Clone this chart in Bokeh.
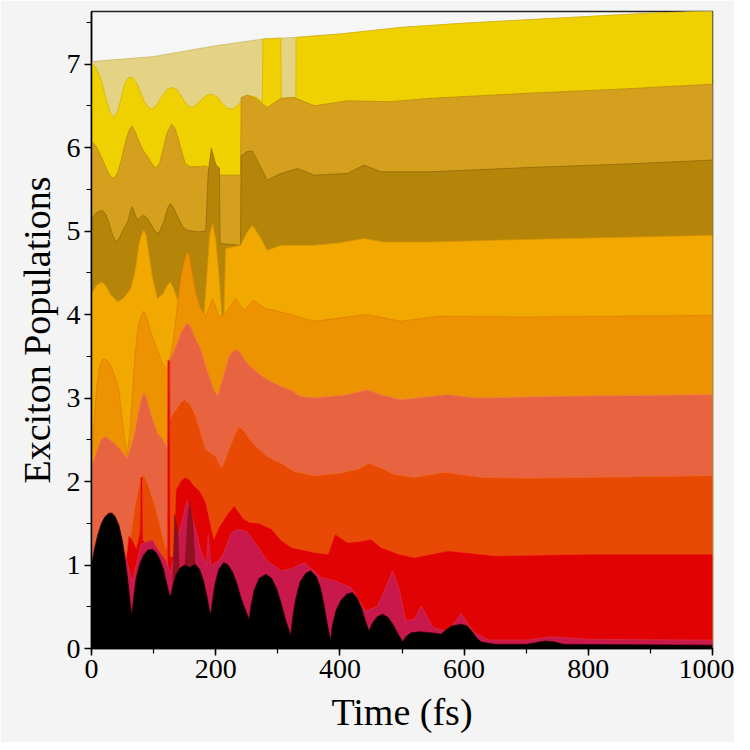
from bokeh.plotting import figure
from bokeh.models import Range1d, SingleIntervalTicker
from bokeh.embed import file_html
from bokeh.resources import INLINE

# ---- data: top edge of each coloured population band (time in fs) ----
t_pale = [0, 100, 200, 276, 329, 400, 500, 600, 700, 800, 900, 1000]
y_pale = [7.03, 7.09, 7.22, 7.30, 7.32, 7.36, 7.44, 7.49, 7.53, 7.57, 7.61, 7.64]

t_yellow = [0, 6, 12, 18, 23, 30, 36, 42, 48, 54, 60, 66, 72, 78, 85, 92, 98, 106, 114, 122, 130, 138, 146, 154, 162,
            170, 178, 186, 195, 203, 211, 219, 227, 235, 242, 250, 258, 266, 275,
            276, 305, 305.5, 329, 329.5, 400, 500, 600, 700, 800, 900, 1000]
y_yellow = [7.0, 6.97, 6.88, 6.75, 6.6, 6.42, 6.36, 6.43, 6.6, 6.78, 6.84, 6.84, 6.78, 6.68, 6.55, 6.48, 6.46, 6.52, 6.62, 6.7, 6.72, 6.69, 6.6, 6.51, 6.48,
            6.52, 6.58, 6.63, 6.64, 6.6, 6.53, 6.47, 6.46, 6.5, 6.56, 6.61, 6.62, 6.6, 6.55,
            7.30, 7.31, 6.59, 6.60, 7.32, 7.36, 7.44, 7.49, 7.53, 7.57, 7.61, 7.64]

t_gold = [0, 6, 12, 18, 24, 30, 36, 42, 48, 53, 58, 62, 65, 70, 75, 83, 92, 98, 104, 110, 116, 122, 129, 134, 140, 146,
          151, 159, 167, 184, 205, 240, 241, 251, 266, 283, 305, 326, 359, 412, 480, 547, 700, 850, 1000]
y_gold = [6.07, 6.03, 5.95, 5.85, 5.75, 5.66, 5.63, 5.7, 5.85, 6.02, 6.15, 6.23, 6.26, 6.2, 6.1, 5.97, 5.87, 5.8, 5.75, 5.82, 6.0, 6.18, 6.28, 6.24, 6.1, 5.93,
          5.81, 5.77, 5.77, 5.78, 5.67, 5.67, 6.6, 6.63, 6.58, 6.48, 6.59, 6.6, 6.5, 6.56, 6.55, 6.59, 6.65, 6.7, 6.76]

t_dgold = [0, 8, 17, 23, 28, 34, 39, 45, 50, 56, 60, 63, 66, 70, 74, 79, 84, 90, 96, 102, 108, 113, 118, 123, 127, 132,
           140, 147, 154, 170, 184, 188, 193, 200, 206, 207, 240, 241, 250, 259, 270, 283, 305, 332, 359, 412, 439, 466,
           547, 700, 850, 1000]
y_dgold = [5.15, 5.22, 5.25, 5.2, 5.1, 4.95, 4.87, 4.92, 5.0, 5.08, 5.15, 5.25, 5.29, 5.2, 5.13, 5.17, 5.19, 5.15, 5.08, 5.0, 4.97, 5.05, 5.15, 5.28, 5.33, 5.28,
           5.15, 5.05, 5.01, 4.99, 5.0, 5.7, 5.99, 5.8, 5.75, 4.85, 4.83, 5.9, 5.95, 5.96, 5.8, 5.61, 5.69, 5.75, 5.67, 5.69, 5.79, 5.71,
           5.71, 5.76, 5.8, 5.85]

t_amber = [0, 8, 17, 24, 30, 42, 52, 63, 68, 72, 76, 80, 84, 88, 93, 98, 106, 115, 122, 127, 133, 140, 160, 181, 186, 190,
           195, 200, 205, 210, 213, 216, 240, 250, 259, 270, 283, 305, 359, 400, 439, 470, 547, 700, 1000]
y_amber = [4.25, 4.35, 4.39, 4.34, 4.25, 4.15, 4.2, 4.31, 4.45, 4.6, 4.82, 4.95, 5.01, 4.95, 4.7, 4.45, 4.19, 4.25, 4.35, 4.39, 4.3, 4.15, 4.05, 3.98, 4.5, 4.95,
           5.09, 4.9, 4.5, 4.0, 3.95, 4.79, 4.83, 4.98, 5.07, 4.95, 4.77, 4.83, 4.83, 4.86, 4.91, 4.87, 4.87, 4.9, 4.95]

t_orange = [0, 8, 13, 18, 24, 30, 37, 44, 52, 57, 62, 66, 70, 74, 78, 84, 90, 95, 106, 115, 122, 130, 135, 140, 144, 148,
            154, 158, 162, 168, 176, 184, 195, 205, 215, 232, 246, 261, 280, 305, 359, 412, 444, 498, 560, 700, 1000]
y_orange = [2.3, 3.1, 3.38, 3.47, 3.46, 3.4, 3.27, 3.1, 2.6, 2.3, 2.6, 3.05, 3.5, 3.8, 3.95, 4.04, 3.95, 3.8, 3.58, 3.4, 3.35, 3.6, 3.9, 4.2, 4.45, 4.6,
            4.75, 4.7, 4.5, 4.25, 4.07, 3.98, 4.19, 3.98, 4.0, 4.19, 4.05, 4.17, 4.07, 4.03, 3.92, 3.97, 4.0, 3.92, 3.98, 3.97, 3.99]

t_salmon = [0, 8, 15, 22, 35, 45, 57, 65, 70, 75, 80, 84, 89, 95, 106, 115, 122, 124, 135, 145, 154, 160, 165, 175, 184,
            197, 203, 212, 222, 228, 234, 240, 245, 255, 268, 283, 305, 320, 336, 359, 412, 444, 466, 498, 573, 620, 750, 1000]
y_salmon = [2.18, 2.35, 2.5, 2.54, 2.47, 2.4, 2.28, 2.45, 2.6, 2.8, 2.98, 3.06, 3.0, 2.82, 2.58, 2.5, 2.4, 3.42, 3.6, 3.8, 3.9, 3.85, 3.75, 3.6, 3.38,
            3.1, 3.02, 3.25, 3.5, 3.56, 3.58, 3.54, 3.47, 3.38, 3.3, 3.22, 3.14, 3.1, 3.02, 3.0, 3.04, 3.1, 3.04, 2.98, 3.04, 3.0, 3.02, 3.04]

t_ored = [0, 55, 62, 70, 78, 84, 92, 103, 111, 119, 123, 125, 135, 143, 150, 158, 167, 175, 184, 200, 210, 222, 232, 238,
          246, 255, 268, 283, 293, 310, 326, 359, 400, 430, 447, 466, 490, 520, 568, 627, 700, 1000]
y_ored = [1.0, 1.0, 1.3, 1.7, 2.0, 2.08, 1.95, 1.69, 1.45, 1.21, 1.2, 2.74, 2.85, 2.94, 2.98, 2.93, 2.8, 2.6, 2.38, 2.3, 2.16, 2.4, 2.58, 2.66,
          2.6, 2.5, 2.4, 2.30, 2.26, 2.2, 2.12, 2.07, 2.1, 2.15, 2.22, 2.16, 2.08, 2.05, 2.11, 2.05, 2.04, 2.07]

t_red = [0, 55, 60, 66, 72, 78, 79, 82, 83, 95, 120, 122, 123, 126, 127, 132, 136, 143, 151, 158, 165, 175, 184, 197, 205,
         218, 230, 245, 255, 270, 290, 305, 322, 359, 381, 392, 412, 430, 450, 466, 495, 520, 574, 650, 800, 1000]
y_red = [1.0, 1.0, 1.35, 1.3, 1.2, 1.4, 2.05, 2.05, 1.3, 1.2, 1.0, 1.0, 3.45, 3.45, 1.1, 1.1, 1.9, 2.0, 2.05, 2.02, 1.95, 1.88, 1.75, 1.31, 1.45,
         1.6, 1.71, 1.55, 1.51, 1.5, 1.43, 1.3, 1.21, 1.15, 1.13, 1.37, 1.27, 1.28, 1.31, 1.21, 1.13, 1.09, 1.17, 1.11, 1.13, 1.13]

t_crim = [0, 20, 33, 45, 55, 62, 66, 72, 80, 90, 98, 110, 120, 127, 135, 145, 154, 165, 175, 185, 188, 192, 205, 213, 225,
          235, 250, 265, 283, 305, 320, 343, 370, 392, 418, 441, 460, 475, 485, 496, 506, 520, 531, 550, 574, 595, 615,
          640, 700, 740, 800, 1000]
y_crim = [1.0, 1.52, 1.63, 1.42, 1.1, 0.9, 0.8, 1.0, 1.25, 1.28, 1.3, 1.15, 1.05, 0.9, 1.2, 1.5, 1.77, 1.5, 1.2, 1.0, 1.37, 1.0, 1.05, 1.15, 1.38,
          1.43, 1.4, 1.25, 1.05, 0.93, 0.95, 1.03, 0.85, 0.81, 0.73, 0.45, 0.5, 0.75, 0.93, 0.7, 0.33, 0.35, 0.51, 0.25, 0.2, 0.42, 0.2,
          0.1, 0.1, 0.14, 0.11, 0.1]

t_maroon = [0, 128, 131, 134, 139, 142, 150, 155, 158, 163, 167, 170, 1000]
y_maroon = [0, 0, 0.7, 1.6, 1.4, 0.7, 0.9, 1.55, 1.75, 1.5, 0.95, 0, 0]

t_black = [0, 5, 10, 16, 22, 28, 33, 38, 44, 50, 55, 59, 63, 65,
           68, 72, 78, 84, 91, 98, 104, 110, 116, 121, 125, 127,
           131, 136, 142, 150, 158, 167, 174, 180, 186, 190, 192,
           195, 199, 205, 213, 220, 227, 234, 241, 248, 254,
           257, 262, 270, 281, 290, 298, 305, 313, 321,
           324, 329, 336, 345, 353, 362, 369, 375, 380, 385,
           388, 394, 402, 411, 420, 428, 435, 441, 447,
           452, 460, 469, 478, 486, 494, 501,
           506, 515, 530, 545, 556, 563,
           570, 580, 595, 605, 613, 620, 627,
           650, 700, 715, 730, 745, 760, 1000]
y_black = [1.0, 1.2, 1.36, 1.5, 1.58, 1.62, 1.62, 1.58, 1.48, 1.28, 1.02, 0.78, 0.5, 0.41,
           0.62, 0.85, 1.02, 1.12, 1.18, 1.19, 1.15, 1.07, 0.95, 0.78, 0.66, 0.62,
           0.75, 0.88, 0.96, 1.0, 0.97, 1.01, 0.95, 0.82, 0.62, 0.46, 0.41,
           0.58, 0.78, 0.95, 1.03, 1.0, 0.92, 0.78, 0.6, 0.46, 0.35,
           0.52, 0.7, 0.84, 0.89, 0.84, 0.72, 0.55, 0.33, 0.16,
           0.38, 0.6, 0.8, 0.9, 0.93, 0.86, 0.72, 0.5, 0.28, 0.1,
           0.28, 0.46, 0.58, 0.65, 0.67, 0.6, 0.48, 0.33, 0.21,
           0.3, 0.38, 0.41, 0.37, 0.28, 0.17, 0.08,
           0.14, 0.19, 0.2, 0.19, 0.18, 0.17,
           0.22, 0.27, 0.29, 0.27, 0.2, 0.13, 0.08,
           0.05, 0.05, 0.07, 0.09, 0.08, 0.05, 0.04]

x_ticks_interval = 200
y_ticks_interval = 1

# drawn from the top band down, so lower bands paint over upper ones
layers = [
    (t_pale, y_pale, "#e4d384", "#c9b45e"),
    (t_yellow, y_yellow, "#efd000", "#d4b400"),
    (t_gold, y_gold, "#d5a01e", "#b8860f"),
    (t_dgold, y_dgold, "#b5850a", "#8c6604"),
    (t_amber, y_amber, "#f1a800", "#d89200"),
    (t_orange, y_orange, "#ed9200", "#e07c00"),
    (t_salmon, y_salmon, "#e8633f", "#f07a55"),
    (t_ored, y_ored, "#e84a06", "#f06a20"),
    (t_red, y_red, "#e10303", "#f04010"),
    (t_crim, y_crim, "#c9184c", "#d83050"),
    (t_maroon, y_maroon, "#8f1020", "#8f1020"),
    (t_black, y_black, "#000000", "#300000"),
]

p = figure(frame_width=621, frame_height=637,
           x_range=Range1d(0, 1000), y_range=Range1d(0, 7.63),
           output_backend="svg", toolbar_location=None,
           min_border_left=91, min_border_right=22, min_border_top=11, min_border_bottom=94,
           background_fill_color="#f6f6f6", border_fill_color="#f4f4f4")

for tt, yy, fill, edge in layers:
    p.varea(x=tt, y1=0, y2=yy, fill_color=fill, fill_alpha=1.0)
    p.line(tt, yy, line_color=edge, line_width=1.0, line_alpha=0.7)

p.xgrid.visible = False
p.ygrid.visible = False
p.outline_line_color = "#222222"
p.outline_line_width = 1.5

p.xaxis.ticker = SingleIntervalTicker(interval=x_ticks_interval, num_minor_ticks=2)
p.yaxis.ticker = SingleIntervalTicker(interval=y_ticks_interval, num_minor_ticks=2)
p.xaxis.axis_label = "Time (fs)"
p.yaxis.axis_label = "Exciton Populations"

for ax in (p.xaxis, p.yaxis):
    ax.axis_label_text_font = "Liberation Serif"
    ax.axis_label_text_font_size = "38px"
    ax.axis_label_text_font_style = "normal"
    ax.axis_label_text_color = "black"
    ax.major_label_text_font = "Liberation Serif"
    ax.major_label_text_font_size = "28px"
    ax.major_label_text_color = "black"
    ax.axis_line_color = "black"
    ax.axis_line_width = 1.5
    ax.major_tick_line_color = "black"
    ax.major_tick_line_width = 1.5
    ax.minor_tick_line_color = "black"
    ax.minor_tick_line_width = 1.2
    ax.major_tick_in = 0
    ax.major_tick_out = 7
    ax.minor_tick_in = 0
    ax.minor_tick_out = 5
    ax.major_label_standoff = 4
p.xaxis.axis_label_standoff = 10
p.yaxis.axis_label_standoff = 6

open("out.html", "w").write(file_html(p, INLINE))
